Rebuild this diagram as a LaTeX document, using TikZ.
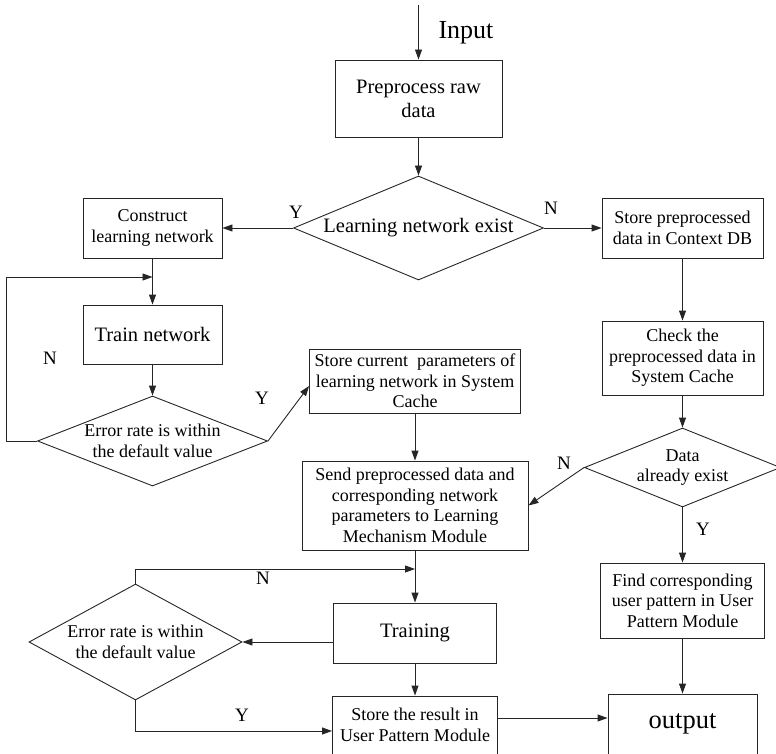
\documentclass[tikz,border=0pt]{standalone}
\usepackage{fontspec}
\setmainfont{Liberation Serif}
\usetikzlibrary{shapes.geometric,arrows.meta}
\begin{document}
\begin{tikzpicture}[x=1pt,y=-1pt,
  line/.style={draw=black!85,line width=0.9pt},
  arr/.style={line,-{Triangle[length=10pt,width=7pt]}},
  box/.style={line,rectangle,inner sep=1pt,align=center,text=black},
  dia/.style={line,diamond,inner sep=0pt,align=center,text=black},
  sm/.style={font=\fontsize{18}{20.5}\selectfont},
  md/.style={font=\fontsize{20.5}{24}\selectfont},
  lbl/.style={font=\fontsize{19}{22}\selectfont,inner sep=0pt}
]
\useasboundingbox (0,0) rectangle (776,754);
\clip (0,0) rectangle (776,754);

% nodes
\node[box,md,minimum width=167,minimum height=77] (pre) at (418.5,98.5) {Preprocess raw\\data};
\coordinate (in) at (418.5,5);
\node[font=\fontsize{26}{30}\selectfont,inner sep=0pt] (inputlbl) at (466,33) {Input};

\node[dia,md,aspect=2.4,minimum width=250,minimum height=104] (learn) at (418.5,228) {Learning network exist};
\node[box,sm,minimum width=139,minimum height=60] (cons) at (152.5,228) {Construct\\learning network};
\node[box,sm,minimum width=161,minimum height=60] (storepre) at (682.5,228) {Store preprocessed\\data in Context DB};

\coordinate (j1) at (152.5,277);
\node[box,md,minimum width=139,minimum height=59] (train) at (152.5,334.5) {Train network};
\node[dia,sm,aspect=2.56,minimum width=230,minimum height=90] (err1) at (152.5,441) {Error rate is within\\the default value};

\node[box,sm,minimum width=211,minimum height=64] (params) at (415,381) {Store current\ \ parameters of\\learning network in System\\Cache};
\node[box,sm,minimum width=226,minimum height=89] (send) at (415,505.5) {Send preprocessed data and\\corresponding network\\parameters to Learning\\Mechanism Module};

\node[box,sm,minimum width=161,minimum height=74] (check) at (682.5,358) {Check the\\preprocessed data in\\System Cache};
\node[dia,sm,aspect=2.48,minimum width=196,minimum height=79] (data) at (682.5,467.5) {Data\\already exist};
\node[box,sm,minimum width=164,minimum height=75] (find) at (682.5,600.5) {Find corresponding\\user pattern in User\\Pattern Module};
\node[box,font=\fontsize{26.5}{30}\selectfont,minimum width=149,minimum height=60] (out) at (682.5,724) {output};

\coordinate (j2) at (415,569);
\node[box,md,minimum width=163,minimum height=60] (training) at (415,633) {Training};
\node[dia,sm,aspect=1.84,minimum width=213,minimum height=116] (err2) at (135.5,642) {Error rate is within\\the default value};
\node[box,sm,minimum width=165,minimum height=58] (result) at (415,725) {Store the result in\\User Pattern Module};

% labels
\node[lbl] (y1) at (296,212) {Y};
\node[lbl] (n1) at (551,208) {N};
\node[lbl] (n2) at (50,358) {N};
\node[lbl] (y2) at (262,398) {Y};
\node[lbl] (n3) at (564,463) {N};
\node[lbl] (y3) at (703,529) {Y};
\node[lbl] (n4) at (263,578) {N};
\node[lbl] (y4) at (242,715) {Y};

% connectors
\draw[arr] (in) -- (pre.north);
\draw[arr] (pre.south) -- (learn.north);
\draw[arr] (learn.west) -- (cons.east);
\draw[arr] (learn.east) -- (storepre.west);
\draw[line] (cons.south) -- (j1);
\draw[arr] (j1) -- (train.north);
\draw[arr] (train.south) -- (err1.north);
\draw[arr] (err1.west) -- ++(-31,0) |- (j1);
\draw[arr] (err1.east) -- ([yshift=-5pt]params.west);
\draw[arr] (params.south) -- (send.north);
\draw[arr] (storepre.south) -- (check.north);
\draw[arr] (check.south) -- (data.north);
\draw[arr] (data.west) -- (send.east);
\draw[arr] (data.south) -- (find.north);
\draw[arr] (find.south) -- (out.north);
\draw[line] (send.south) -- (j2);
\draw[arr] (j2) -- (training.north);
\draw[arr] (err2.north) |- (j2);
\draw[arr] (err2.east -| training.west) -- (err2.east);
\draw[arr] (training.south) -- (result.north);
\draw[arr] (err2.south) |- (result.west |- 0,731);
\draw[arr] ([yshift=7pt]result.east) -- ([yshift=7pt]result.east -| out.west);
\end{tikzpicture}
\end{document}
